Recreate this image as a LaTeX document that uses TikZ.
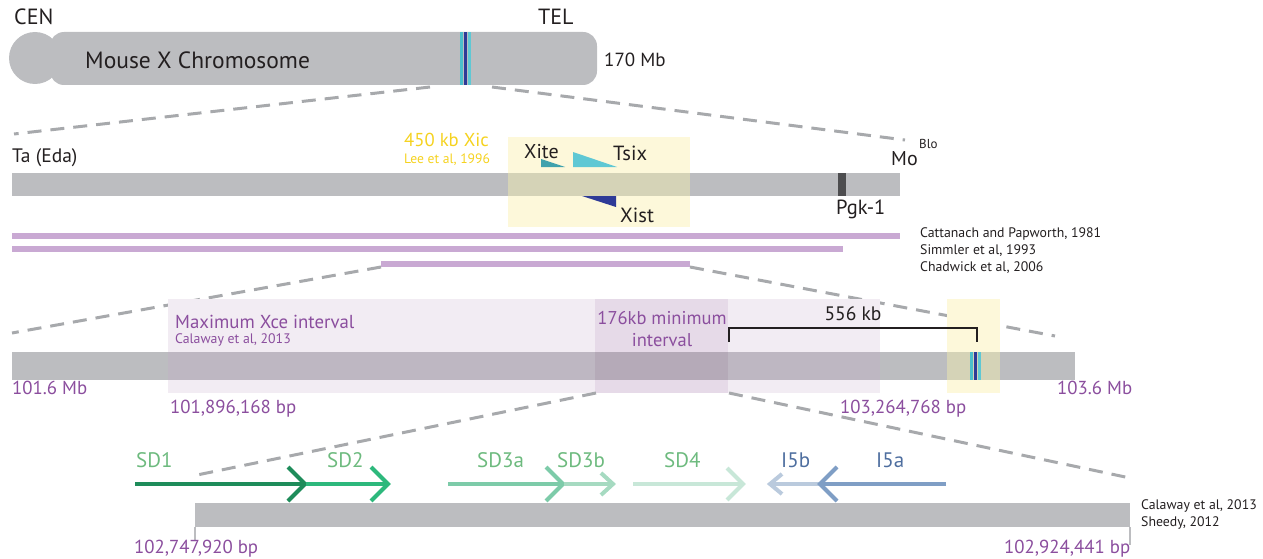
\documentclass[tikz,border=0pt]{standalone}
\usepackage{fontspec}
\setmainfont{PT Sans}
\definecolor{chrom}{HTML}{BCBDC0}
\definecolor{dashc}{HTML}{A7A9AC}
\definecolor{purp}{HTML}{8B4E9E}
\definecolor{lpurp}{HTML}{C9A9D3}
\definecolor{xicy}{HTML}{F5D21F}
\definecolor{ybox}{HTML}{FDF8DA}
\definecolor{yonbar}{HTML}{D5D3B7}
\definecolor{pbox}{HTML}{F2ECF3}
\definecolor{ponbar}{HTML}{BEB7C2}
\definecolor{dpbox}{HTML}{E6DAE8}
\definecolor{dponbar}{HTML}{B5AAB8}
\definecolor{cyanb}{HTML}{4BBFCB}
\definecolor{lcyan}{HTML}{5FC8D4}
\definecolor{navy}{HTML}{2E3A97}
\definecolor{pgk}{HTML}{4D4D4F}
\definecolor{sdone}{HTML}{1E8C5A}
\definecolor{sdtwo}{HTML}{2DB87C}
\definecolor{sdthreea}{HTML}{7DCBA9}
\definecolor{sdthreeb}{HTML}{A6DAC1}
\definecolor{sdfour}{HTML}{C8E7D8}
\definecolor{ifiveb}{HTML}{BACADD}
\definecolor{ifivea}{HTML}{7F9EC5}
\definecolor{sdlab}{HTML}{6DBA7E}
\definecolor{ilab}{HTML}{4E6E9F}
\definecolor{txt}{HTML}{231F20}
\begin{document}
\begin{tikzpicture}[x=1pt,y=-1pt,
  zoomline/.style={draw=dashc,line width=3pt,dash pattern=on 14pt off 9pt},
  lbl/.style={inner sep=0pt,anchor=west,text=txt,font=\fontsize{19.5}{22}\selectfont},
  cite/.style={inner sep=0pt,anchor=west,text=txt,font=\fontsize{13.8}{16}\selectfont},
  plbl/.style={inner sep=0pt,anchor=west,text=purp,font=\fontsize{18.8}{22}\selectfont},
  sdl/.style={inner sep=0pt,anchor=west,text=sdlab,font=\fontsize{21}{24}\selectfont},
  arr/.style={line width=4pt},
  chev/.style={line width=4pt,line join=miter}]
\useasboundingbox (0,0) rectangle (1263,559);

% ---------- Level 1: chromosome ----------
\fill[chrom] (35,58) circle (26);
\fill[chrom,rounded corners=14pt] (50,32) rectangle (597,85);
\fill[cyanb] (460,32) rectangle (463,85);
\fill[navy] (464,32) rectangle (467,85);
\fill[lcyan] (468,32) rectangle (471,85);
\node[lbl,font=\fontsize{22}{24}\selectfont] (cen) at (14,17) {CEN};
\node[lbl,font=\fontsize{22}{24}\selectfont] (tel) at (538,17) {TEL};
\node[lbl,font=\fontsize{23.5}{26}\selectfont] (mxc) at (85,60) {Mouse X Chromosome};
\node[lbl,font=\fontsize{19}{22}\selectfont] (mb170) at (604,60) {170 Mb};
\coordinate (c1l) at (430,87);
\coordinate (c1r) at (492,87);
\coordinate (c2l) at (14,134);
\coordinate (c2r) at (905,140);
\draw[zoomline] (c1l) -- (c2l);
\draw[zoomline] (c1r) -- (c2r);

% ---------- Level 2: Xic region ----------
\fill[ybox] (508,137) rectangle (690,227);
\fill[chrom] (12,173) rectangle (900,196);
\fill[yonbar] (508,173) rectangle (690,196);
\fill[pgk] (838,173) rectangle (846,196);
\fill[cyanb!85!black] (541,159) -- (541,167) -- (565,167) -- cycle;
\fill[lcyan] (573,152) -- (573,167) -- (617,167) -- cycle;
\fill[navy] (582,196) -- (616,196) -- (616,207) -- cycle;
\node[lbl] (ta) at (12,158) {Ta (Eda)};
\node[inner sep=0pt,anchor=west,text=xicy,font=\fontsize{18.7}{22}\selectfont] (xic) at (404,140) {450 kb Xic};
\node[inner sep=0pt,anchor=west,text=xicy,font=\fontsize{13.6}{16}\selectfont] (lee) at (404,160) {Lee et al, 1996};
\node[lbl,font=\fontsize{20}{22}\selectfont] (xite) at (524,152) {Xite};
\node[lbl,font=\fontsize{20.5}{22}\selectfont] (tsix) at (613,153) {Tsix};
\node[lbl,font=\fontsize{20.5}{22}\selectfont] (xist) at (620,215) {Xist};
\node[lbl,font=\fontsize{20}{22}\selectfont] (mo) at (891,159) {Mo};
\node[cite,font=\fontsize{13}{15}\selectfont] (blo) at (919,144) {Blo};
\node[lbl,font=\fontsize{20.5}{22}\selectfont] (pgklbl) at (836,209) {Pgk-1};
\fill[lpurp] (12,233) rectangle (900,239);
\fill[lpurp] (12,246) rectangle (843,252);
\fill[lpurp] (381,261) rectangle (690,267);
\node[cite] (cat) at (920,234) {Cattanach and Papworth, 1981};
\node[cite] (sim) at (920,251) {Simmler et al, 1993};
\node[cite] (cha) at (920,268) {Chadwick et al, 2006};
\coordinate (p3l) at (381,267);
\coordinate (p3r) at (690,267);
\coordinate (c3l) at (12,333);
\coordinate (c3r) at (1055,336);
\draw[zoomline] (p3l) -- (c3l);
\draw[zoomline] (p3r) -- (c3r);

% ---------- Level 3 ----------
\fill[pbox] (168,299) rectangle (880,393);
\fill[dpbox] (595,299) rectangle (728,393);
\fill[ybox] (947,299) rectangle (1000,393);
\fill[chrom] (12,352) rectangle (1075,380);
\fill[ponbar] (168,352) rectangle (880,380);
\fill[dponbar] (595,352) rectangle (728,380);
\fill[yonbar] (947,352) rectangle (1000,380);
\fill[cyanb] (970,352) rectangle (973,380);
\fill[navy] (974,352) rectangle (977,380);
\fill[lcyan] (978,352) rectangle (981,380);
\node[plbl] (maxx) at (175,322) {Maximum Xce interval};
\node[inner sep=0pt,anchor=west,text=purp,font=\fontsize{13.8}{16}\selectfont] (cal1) at (175,340) {Calaway et al, 2013};
\node[inner sep=0pt,text=purp,font=\fontsize{18.5}{22}\selectfont] (mink) at (662,318) {176kb minimum};
\node[inner sep=0pt,text=purp,font=\fontsize{18.5}{22}\selectfont] (mini) at (662,340) {interval};
\coordinate (bkl) at (729,342);
\coordinate (bkr) at (977,342);
\draw[line width=2.5pt,txt] (bkl) -- ++(0,-14) -| (bkr);
\node[inner sep=0pt,text=txt,font=\fontsize{19.5}{22}\selectfont] (k556) at (853,314) {556 kb};
\node[plbl] (m1016) at (12,388) {101.6 Mb};
\node[plbl] (b1018) at (170,409) {101,896,168 bp};
\node[plbl] (b1032) at (840,409) {103,264,768 bp};
\node[plbl] (m1036) at (1057,388) {103.6 Mb};
\coordinate (d3l) at (596,393);
\coordinate (d3r) at (729,393);
\coordinate (c4l) at (197,475);
\coordinate (c4r) at (1130,478);
\draw[zoomline] (d3l) -- (c4l);
\draw[zoomline] (d3r) -- (c4r);

% ---------- Level 4 ----------
\fill[chrom] (195,503) rectangle (1130,527);
\draw[chrom,line width=1.2pt] (195,527) -- (195,541);
\draw[chrom,line width=1.2pt] (1130,527) -- (1130,545);
\node[plbl] (b1027) at (134,549) {102,747,920 bp};
\node[plbl] (b1029) at (1004,549) {102,924,441 bp};
\node[cite] (cal2) at (1141,506) {Calaway et al, 2013};
\node[cite] (she) at (1141,523) {Sheedy, 2012};

% arrows
\draw[arr,sdone] (135,484) -- (302,484);
\draw[chev,sdone] (288,467) -- (305,484) -- (288,501);
\draw[arr,sdtwo] (306,484) -- (385,484);
\draw[chev,sdtwo] (371,467) -- (388,484) -- (371,501);
\draw[arr,sdthreea] (448,484) -- (560,484);
\draw[chev,sdthreea] (546,467) -- (563,484) -- (546,501);
\draw[arr,sdthreeb] (564,484) -- (611,484);
\draw[chev,sdthreeb] (601,473) -- (613,484) -- (601,495);
\draw[arr,sdfour] (633,484) -- (740,484);
\draw[chev,sdfour] (727,468) -- (743,484) -- (727,500);
\draw[arr,ifiveb] (819,484) -- (773,484);
\draw[chev,ifiveb] (782,474) -- (770,484) -- (782,494);
\draw[arr,ifivea] (946,484) -- (823,484);
\draw[chev,ifivea] (837,467) -- (820,484) -- (837,501);
\node[sdl] (sd1) at (136,460) {SD1};
\node[sdl] (sd2) at (327,460) {SD2};
\node[sdl] (sd3a) at (477,460) {SD3a};
\node[sdl] (sd3b) at (557,460) {SD3b};
\node[sdl] (sd4) at (664,460) {SD4};
\node[sdl,text=ilab] (i5b) at (781,460) {I5b};
\node[sdl,text=ilab] (i5a) at (876,460) {I5a};
\end{tikzpicture}
\end{document}
